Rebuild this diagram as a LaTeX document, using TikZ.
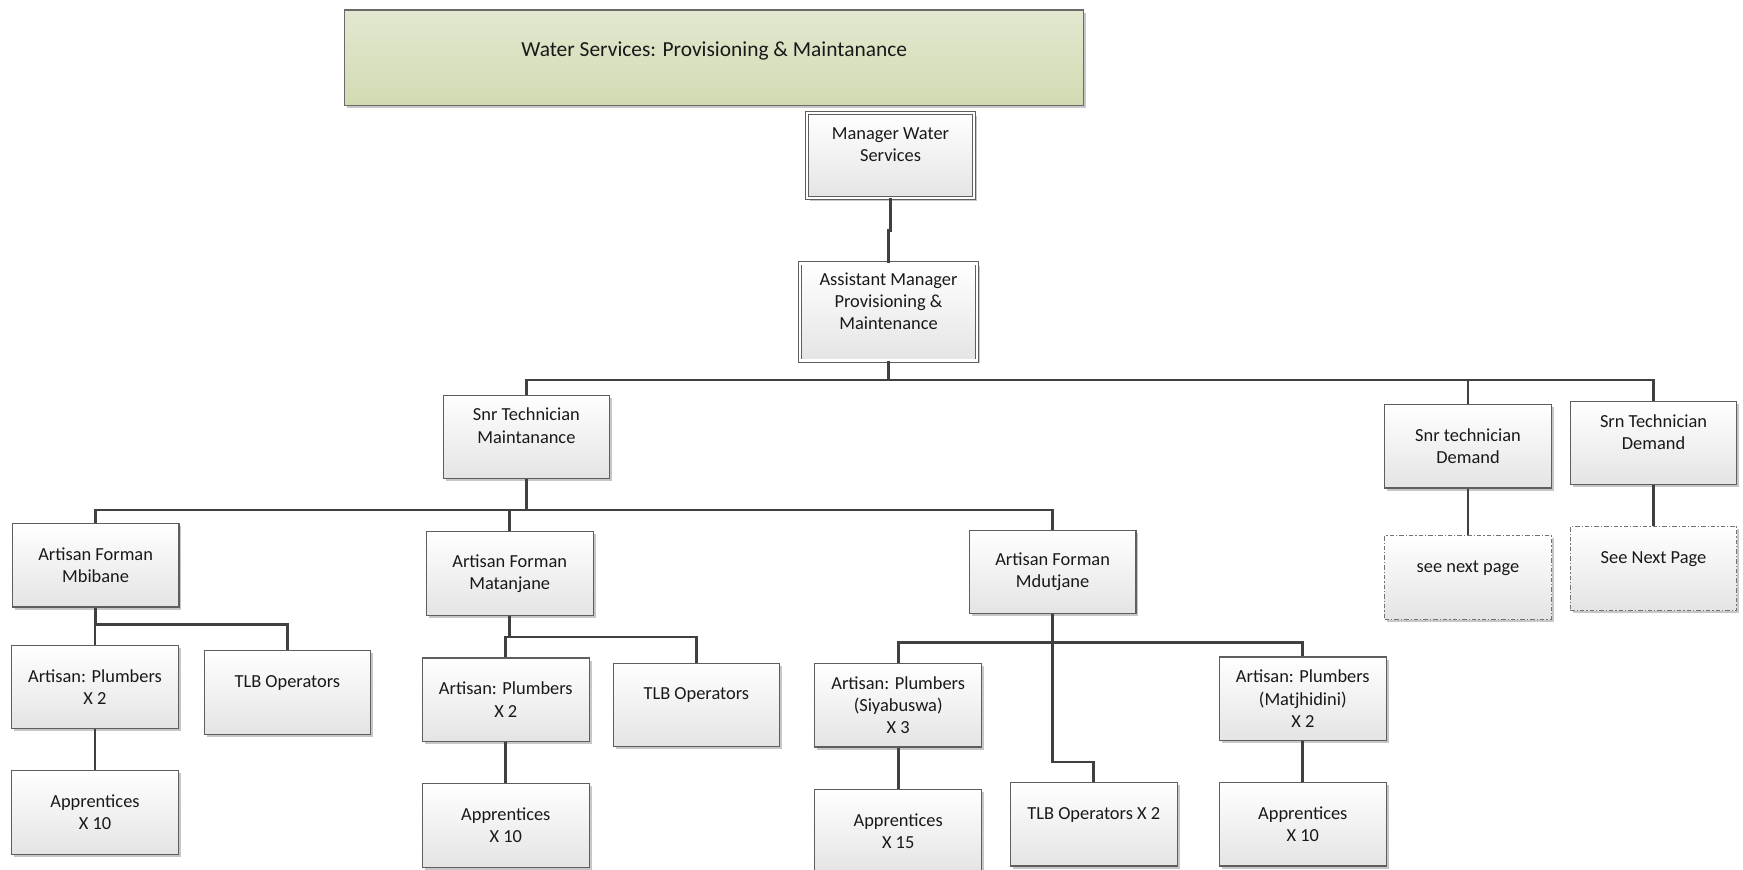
\documentclass[tikz,border=0pt]{standalone}
\usepackage{fontspec}
\setmainfont{Carlito}
\usetikzlibrary{calc,shadows}

\definecolor{boxline}{HTML}{5E5E5E}
\definecolor{boxbot}{HTML}{E4E4E4}
\definecolor{linkcol}{HTML}{404040}
\definecolor{titletop}{HTML}{E2E8D0}
\definecolor{titlebot}{HTML}{D1DBB2}
\definecolor{titleline}{HTML}{6A6A6A}

\begin{document}
\begin{tikzpicture}[x=1pt,y=-1pt,
  every node/.style={font=\fontsize{18.4}{22.2}\selectfont, text=black!90},
  orgbox/.style={draw=boxline, line width=1.1pt, top color=white, bottom color=boxbot,
    minimum width=166.7pt, minimum height=83.4pt, inner sep=0pt, align=center,
    drop shadow={shadow xshift=2.5pt, shadow yshift=-2.5pt, opacity=0.22, fill=black}},
  dblbox/.style={orgbox, double=white, double distance=2.6pt, line width=0.9pt},
  notebox/.style={orgbox, draw=black!55, dash pattern=on 4.5pt off 2pt on 1.2pt off 2pt},
  link/.style={draw=linkcol, line width=2.8pt},
]
\useasboundingbox (0,0) rectangle (1743,870);

% heading banner
\node[draw=titleline, line width=1.1pt, top color=titletop, bottom color=titlebot,
      minimum width=739.2pt, minimum height=95.6pt, inner sep=0pt,
      font=\fontsize{21.4}{25.8}\selectfont,
      drop shadow={shadow xshift=2.5pt, shadow yshift=-2.5pt, opacity=0.22, fill=black}]
  (title) at (714.2,57.8) {\raisebox{7pt}[\height][\depth]{Water Services: Provisioning \& Maintanance}};

% management
\node[dblbox, minimum width=167pt, minimum height=85pt] (mgr) at (890.5,155.5)
  {Manager Water\\Services\\\mbox{}};
\node[dblbox, minimum width=177pt, minimum height=97.5pt] (asst) at (888.5,312)
  {Assistant Manager\\Provisioning \&\\Maintenance\\\mbox{}};

% senior technicians
\node[orgbox] (stm) at (526.4,436.8) {Snr Technician\\Maintanance\\\mbox{}};
\node[orgbox] (sd1) at (1468,446.3) {Snr technician\\Demand};
\node[orgbox] (sd2) at (1653.5,442.9) {Srn Technician\\Demand\\\mbox{}};
\node[notebox] (np1) at (1468,577.4) {see next page\\\mbox{}};
\node[notebox] (np2) at (1653.5,568.5) {See Next Page\\\mbox{}};

% foremen
\node[orgbox] (fm1) at (95.6,565.3) {Artisan Forman\\Mbibane};
\node[orgbox] (fm2) at (509.7,573.5) {Artisan Forman\\Matanjane};
\node[orgbox] (fm3) at (1052.6,571.8) {Artisan Forman\\Mdutjane};

% Mbibane team
\node[orgbox] (ap1) at (95,687) {Artisan: Plumbers\\X 2};
\node[orgbox] (tlb1) at (287.4,692.5) {TLB Operators\\\mbox{}};
\node[orgbox] (ar1) at (95,812.5) {Apprentices\\X 10};

% Matanjane team
\node[orgbox] (ap2) at (505.8,699.7) {Artisan: Plumbers\\X 2};
\node[orgbox] (tlb2) at (696.4,704.8) {TLB Operators\\\mbox{}};
\node[orgbox] (ar2) at (505.8,825.4) {Apprentices\\X 10};

% Mdutjane team
\node[orgbox] (ap3) at (898.2,705.3) {Artisan: Plumbers\\(Siyabuswa)\\X 3};
\node[orgbox] (tlb3) at (1093.8,824.3) {TLB Operators X 2\\\mbox{}};
\node[orgbox] (ap4) at (1302.8,698.7) {Artisan: Plumbers\\(Matjhidini)\\X 2};
\node[orgbox] (ar3) at (898.2,831) {Apprentices\\X 15};
\node[orgbox] (ar4) at (1302.8,824.3) {Apprentices\\X 10};

% bus levels
\coordinate (b1) at (0,380);
\coordinate (b2) at (0,510);
\coordinate (b3) at (0,624.7);
\coordinate (b4) at (0,637);
\coordinate (b5) at (0,642.5);

% connectors
\draw[link] (mgr.south) |- ($(mgr.south)!.5!(asst.north)$) -| (asst.north);

\draw[link] (asst.south) |- (b1 -| stm.north) -- (stm.north);
\draw[link] (asst.south) |- (b1 -| sd1.north) -- (sd1.north);
\draw[link] (asst.south) |- (b1 -| sd2.north) -- (sd2.north);
\draw[link] (sd1.south) -- (np1.north);
\draw[link] (sd2.south) -- (np2.north);

\draw[link] (stm.south) |- (b2 -| fm1.north) -- (fm1.north);
\draw[link] (stm.south) |- (b2 -| fm2.north) -- (fm2.north);
\draw[link] (stm.south) |- (b2 -| fm3.north) -- (fm3.north);

\draw[link] (fm1.south) |- (b3 -| ap1.north) -- (ap1.north);
\draw[link] (fm1.south) |- (b3 -| tlb1.north) -- (tlb1.north);
\draw[link] (ap1.south) -- (ar1.north);

\draw[link] (fm2.south) |- (b4 -| ap2.north) -- (ap2.north);
\draw[link] (fm2.south) |- (b4 -| tlb2.north) -- (tlb2.north);
\draw[link] (ap2.south) -- (ar2.north);

\draw[link] (fm3.south) |- (b5 -| ap3.north) -- (ap3.north);
\draw[link] (fm3.south) |- (b5 -| ap4.north) -- (ap4.north);
\draw[link] (fm3.south) |- ($(tlb3.north)+(0,-20)$) -| (tlb3.north);
\draw[link] (ap3.south) -- (ar3.north);
\draw[link] (ap4.south) -- (ar4.north);
\end{tikzpicture}
\end{document}
